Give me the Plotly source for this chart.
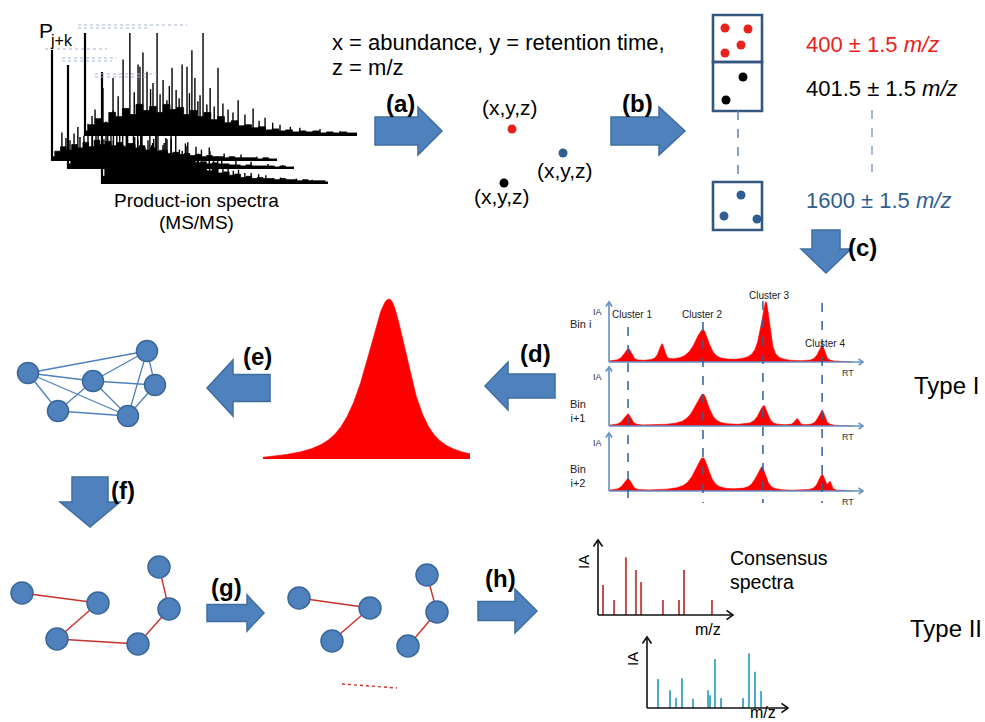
import numpy as np
import plotly.graph_objects as go

W, H = 985, 722
FONT = "Liberation Sans, Arial, Helvetica, sans-serif"

# colours
ARROW_FILL = "#4F81BD"
ARROW_LINE = "#3F6D9F"
NODE_FILL = "#4F81BD"
NODE_LINE = "#3A679A"
BOX_LINE = "#34577F"
ION_RED = "#E8231C"
ION_BLUE = "#2F5E92"
PEAK_RED = "#FF0000"
AXIS_BLUE = "#6390C6"
DASH_BLUE = "#2F5F96"
EDGE_RED = "#C8302C"
CONS_RED = "#C0504D"
CONS_BLUE = "#4BACC6"

# ---------------------------------------------------------------------------
# MS/MS product-ion spectra: relative m/z (0-100) and relative intensity (%)
GRASS_MZ = [i * 2.5 for i in range(41)]

msA_mz = [3.7, 6.6, 10.3, 12.2, 14.0, 16.5, 18.1, 19.5, 20.2, 21.3, 22.8, 24.1, 25.0, 26.5,
          27.6, 28.7, 30.1, 31.0, 32.0, 33.5, 34.6, 35.7, 37.5, 38.4, 39.3, 40.4, 41.5,
          42.3, 43.4, 44.8, 46.0, 47.5, 48.9, 50.7, 52.6, 54.4, 56.3, 58.8, 61.8, 64.0,
          66.2, 69.0, 71.7, 75.5, 79.0, 86.4, 93.8]
msA_int = [25, 46, 56, 38, 74, 100, 42, 69, 67, 81, 62, 45, 51, 100, 40, 54, 34, 48, 66,
           44, 36, 69, 67, 41, 83, 56, 33, 39, 100, 30, 46, 28, 66, 31, 25, 22, 34, 20,
           26, 14, 17, 12, 10, 8, 7, 6, 4]
msA_grass = [4, 10, 16, 12, 22, 18, 26, 20, 30, 24, 28, 22, 30, 25, 27, 20, 24, 18, 22, 15,
             18, 12, 14, 9, 10, 7, 8, 5, 6, 4, 5, 3, 4, 3, 4, 2, 3, 2, 3, 2, 2]

msB_mz = [4.4, 6.2, 8.0, 9.8, 11.5, 14.2, 16.0, 17.8, 20.5, 22.3, 24.0, 27.3, 28.8, 30.1,
          33.6, 36.2, 38.1, 40.0, 43.5, 45.2, 47.1, 50.6, 55.0, 59.3, 64.0, 70.2, 76.5,
          84.0, 91.0]
msB_int = [25, 20, 18, 24, 30, 22, 33, 40, 28, 21, 35, 45, 30, 26, 38, 30, 25, 42, 24, 19,
           33, 20, 26, 15, 12, 8, 6, 5, 3]
msB_grass = [3, 8, 12, 9, 14, 11, 16, 12, 18, 14, 17, 13, 16, 12, 15, 11, 13, 9, 11, 8,
             9, 6, 7, 5, 6, 4, 5, 3, 4, 3, 3, 2, 3, 2, 2, 2, 2, 1, 2, 1, 1]

msC_mz = [5.3, 7.1, 9.0, 10.8, 12.4, 15.9, 17.5, 19.0, 22.6, 24.2, 25.8, 29.5, 30.9, 32.2,
          35.4, 37.0, 38.9, 42.0, 43.8, 45.6, 49.3, 53.0, 57.7, 62.5, 68.0, 74.3, 81.0,
          88.5, 95.0]
msC_int = [30, 26, 22, 31, 35, 28, 24, 42, 24, 33, 38, 30, 27, 48, 27, 22, 36, 22, 28, 32,
           18, 25, 14, 20, 10, 8, 6, 4, 3]
msC_grass = [4, 9, 14, 10, 16, 12, 18, 13, 20, 15, 18, 14, 17, 12, 16, 11, 14, 10, 12, 8,
             10, 7, 8, 5, 6, 4, 5, 4, 4, 3, 3, 2, 3, 2, 2, 2, 2, 1, 2, 1, 1]

msD_mz = [2.5, 3.8, 5.0, 6.6, 8.2, 9.6, 11.0, 12.8, 14.5, 15.9, 17.3, 19.0, 20.8, 22.4,
          24.0, 25.7, 27.5, 29.0, 30.6, 32.3, 33.9, 35.5, 37.2, 38.8, 40.5, 42.2, 44.0,
          45.8, 47.6, 49.4, 51.2, 53.5, 55.8, 58.1, 60.4, 63.2, 66.0, 69.3, 72.5, 79.0,
          86.0, 93.0]
msD_int = [45, 30, 38, 26, 30, 34, 42, 28, 35, 24, 50, 32, 28, 36, 44, 30, 36, 27, 40, 22,
           25, 29, 33, 20, 22, 26, 30, 17, 18, 21, 24, 13, 14, 11, 12, 9, 9, 8, 7, 5, 4, 3]
msD_grass = [6, 14, 20, 15, 24, 18, 26, 20, 28, 22, 26, 19, 24, 18, 22, 16, 19, 13, 16, 11,
             13, 9, 10, 7, 8, 5, 6, 4, 5, 4, 4, 3, 4, 3, 3, 2, 3, 2, 2, 2, 1]

# ---------------------------------------------------------------------------
# (a) ions as (x, y, z) points
ion_x = [512, 563, 504]
ion_y = [129, 153, 183]
ion_colors = [ION_RED, ION_BLUE, "black"]
ion_label_x = [510, 565, 502]
ion_label_y = [107, 170, 196]

# (b) m/z bins
bin_labels = ["400 ± 1.5 <i>m/z</i>", "401.5 ± 1.5 <i>m/z</i>", "1600 ± 1.5 <i>m/z</i>"]
bin_label_colors = [ION_RED, "black", ION_BLUE]
bin_label_y = [44, 88, 200]
bin_top = [15, 62, 182]
bin_bottom = [62, 111, 230]
bin_dot_x = [[725, 748, 741, 725], [743, 726], [741, 724, 757]]
bin_dot_y = [[28, 29, 45, 53], [77, 100], [195, 216, 219]]
bin_dot_colors = [ION_RED, "black", ION_BLUE]

# (c)/(d) extracted ion chromatograms per bin (RT 0-100, IA %)
chrom_bins = ["Bin i", "Bin<br>i+1", "Bin<br>i+2"]
chrom_rt = [[7.6, 20.9, 37.0, 61.8, 83.9],
            [7.5, 37.0, 61.0, 74.0, 83.9],
            [7.5, 37.0, 60.2, 83.9, 87.0]]
chrom_ia = [[22, 28, 53, 100, 28],
            [20, 54, 34, 12, 27],
            [21, 57, 41, 28, 14]]
chrom_w = [[1.6, 1.2, 3.2, 2.0, 1.4],
           [1.6, 3.2, 2.0, 0.9, 1.4],
           [1.6, 3.2, 2.2, 1.4, 0.7]]
cluster_names = ["Cluster 1", "Cluster 2", "Cluster 3", "Cluster 4"]
cluster_rt = [7.5, 37.0, 60.6, 83.9]
cluster_label_rt = [9.1, 36.6, 63.0, 85.0]
cluster_label_y = [314, 314, 295, 343]
cluster_line_top = [327, 322, 301, 303]

# consensus chromatographic peak (RT 0-100, IA %)
big_rt, big_ia, big_wl, big_wr = 60.9, 102.5, 13.5, 11.1

# (e) peak-correlation network
net_x = [28, 147, 93, 155, 58, 128]
net_y = [373, 351, 381, 385, 411, 416]
net_edges = [(0, 1), (0, 2), (0, 4), (0, 5), (2, 1), (2, 3), (2, 4), (2, 5),
             (1, 3), (1, 5), (4, 5), (3, 5)]

# (f) spanning graph and (g) split graph
g1_x = [22, 98, 57, 138, 159, 169]
g1_y = [593, 603, 639, 644, 567, 609]
g1_edges = [(0, 1), (1, 2), (2, 3), (3, 5), (5, 4)]
g2_x = [299, 370, 332, 427, 437, 408]
g2_y = [598, 608, 641, 575, 612, 646]
g2_edges = [(0, 1), (1, 2), (3, 4), (4, 5)]

# (h) consensus spectra (relative m/z 0-100, IA %)
cons_red_mz = [3.7, 11.9, 20.7, 28.1, 31.9, 48.1, 60.0, 63.7, 84.4]
cons_red_ia = [40, 20, 77, 60, 44, 20, 20, 60, 20]
cons_blue_mz = [7.8, 16.3, 20.6, 24.8, 32.6, 43.3, 44.7, 48.2, 52.5, 68.1, 72.3, 76.6, 80.9]
cons_blue_ia = [41, 25, 14, 42, 13, 25, 18, 69, 14, 14, 77, 51, 24]

# ---------------------------------------------------------------------------
# panel boxes in page pixels: (left, right, baseline, top)
BOX = {
    2: (85, 357, 135, 33),     # spectrum A (back)
    3: (52, 277, 160, 50),     # spectrum B
    4: (68, 294, 168, 65),     # spectrum C
    5: (102, 328, 183, 72),    # spectrum D (front)
    6: (609, 863, 362, 302),   # Bin i
    7: (609, 863, 426, 367),   # Bin i+1
    8: (609, 863, 491, 433),   # Bin i+2
    9: (263, 470, 459, 299),   # consensus peak
    10: (598, 733, 615, 540),  # consensus spectrum (red)
    11: (647, 788, 708, 637),  # consensus spectrum (blue)
}

fig = go.Figure()
fig.update_layout(
    width=W, height=H, margin=dict(l=0, r=0, t=0, b=0),
    paper_bgcolor="white", plot_bgcolor="rgba(0,0,0,0)", showlegend=False,
    font=dict(family=FONT, color="black"),
    xaxis=dict(domain=[0, 1], range=[0, W], visible=False, fixedrange=True),
    yaxis=dict(domain=[0, 1], range=[H, 0], visible=False, fixedrange=True),
)


def set_panel(n, xr=(0, 100), yr=(0, 100), pad=6):
    l, r, b, t = BOX[n]
    sx = (xr[1] - xr[0]) / (r - l)
    sy = (yr[1] - yr[0]) / (b - t)
    fig.update_layout({
        f"xaxis{n}": dict(domain=[(l - pad) / W, (r + pad) / W],
                          range=[xr[0] - pad * sx, xr[1] + pad * sx],
                          anchor=f"y{n}", visible=False, fixedrange=True),
        f"yaxis{n}": dict(domain=[1 - (b + pad) / H, 1 - (t - pad) / H],
                          range=[yr[0] - pad * sy, yr[1] + pad * sy],
                          anchor=f"x{n}", visible=False, fixedrange=True),
    })


for n in BOX:
    set_panel(n)


def sticks(xs, ys):
    px, py = [], []
    for a, b in zip(xs, ys):
        px += [a, a, None]
        py += [0, b, None]
    return px, py


def pv(x, c, h, wl, wr, eta=0.75):
    w = np.where(x < c, wl, wr)
    u = (x - c) / w
    return h * (eta / (1 + u * u) + (1 - eta) * np.exp(-np.log(2) * u * u))


shapes = []
annotations = []


def text(x, y, s, size, color="black", xanchor="center", angle=0, xref="x", yref="y", bold=False):
    annotations.append(dict(
        x=x, y=y, xref=xref, yref=yref, text=f"<b>{s}</b>" if bold else s,
        showarrow=False, xanchor=xanchor, yanchor="middle", textangle=angle,
        font=dict(family=FONT, size=size, color=color)))


def block_arrow(direction, tail, tip, c, bh, hh, hl):
    s = 1 if tip > tail else -1
    b = tip - s * hl
    pts = [(tail, c - bh), (b, c - bh), (b, c - hh), (tip, c), (b, c + hh), (b, c + bh), (tail, c + bh)]
    if direction == "v":
        pts = [(q, p) for p, q in pts]
    path = "M" + " L".join(f"{p:.1f},{q:.1f}" for p, q in pts) + " Z"
    shapes.append(dict(type="path", path=path, xref="x", yref="y",
                       fillcolor=ARROW_FILL, line=dict(color=ARROW_LINE, width=1.5)))


def line(x0, y0, x1, y1, color, width, dash="solid", xref="x"):
    shapes.append(dict(type="line", x0=x0, y0=y0, x1=x1, y1=y1, xref=xref, yref="y",
                       line=dict(color=color, width=width, dash=dash)))


def vhead(x, y, dx, dy, size, color, width):
    # open V arrowhead pointing along (dx, dy)
    px, py = -dy, dx
    a = (x - dx * size + px * size * 0.7, y - dy * size + py * size * 0.7)
    b = (x - dx * size - px * size * 0.7, y - dy * size - py * size * 0.7)
    shapes.append(dict(type="path", path=f"M{a[0]},{a[1]} L{x},{y} L{b[0]},{b[1]}",
                       xref="x", yref="y", line=dict(color=color, width=width)))


def axis_arrows(n, color, width, head):
    l, r, b, t = BOX[n]
    line(l, b, l, t, color, width)
    line(l, b, r, b, color, width)
    vhead(l, t, 0, -1, head, color, width)
    vhead(r, b, 1, 0, head, color, width)


# ---------------- MS/MS spectra
spectra = [(2, msA_mz, msA_int, msA_grass), (3, msB_mz, msB_int, msB_grass),
           (4, msC_mz, msC_int, msC_grass), (5, msD_mz, msD_int, msD_grass)]
for n, mz, inten, grass in spectra:
    xa, ya = f"x{n}", f"y{n}"
    fig.add_trace(go.Scatter(x=GRASS_MZ, y=grass, mode="lines", fill="tozeroy",
                             fillcolor="black", line=dict(color="black", width=0.8, shape="hvh"),
                             xaxis=xa, yaxis=ya, hoverinfo="skip"))
    sx, sy = sticks(mz, inten)
    fig.add_trace(go.Scatter(x=sx, y=sy, mode="lines", line=dict(color="black", width=1.4),
                             xaxis=xa, yaxis=ya, hoverinfo="skip"))
    fig.add_trace(go.Scatter(x=[0, 0, 100], y=[100, 0, 0], mode="lines",
                             line=dict(color="black", width=2.2),
                             xaxis=xa, yaxis=ya, hoverinfo="skip"))

# faint header lines above each spectrum
for x0, x1, y in [(78, 187, 25), (78, 150, 28), (45, 107, 49), (62, 117, 58),
                  (62, 112, 61), (95, 157, 74), (95, 148, 77)]:
    line(x0, y, x1, y, "#A8B3CF", 1, "dot")

text(37, 30, "P", 21, xanchor="left")
text(48, 40, "j+k", 16, xanchor="left")
text(196, 200, "Product-ion spectra", 19)
text(196, 222, "(MS/MS)", 19)

# ---------------- (a)
text(330, 42, "x = abundance, y = retention time,", 22, xanchor="left")
text(330, 67, "z = m/z", 22, xanchor="left")
block_arrow("h", 375, 442, 131, 14, 24, 24)
text(400, 103, "(a)", 24, bold=True)
for xi, yi, ci in zip(ion_x, ion_y, ion_colors):
    fig.add_trace(go.Scatter(x=[xi], y=[yi], mode="markers",
                             marker=dict(size=9, color=ci), hoverinfo="skip"))
for lx, ly in zip(ion_label_x, ion_label_y):
    text(lx, ly, "(x,y,z)", 21)

# ---------------- (b)
block_arrow("h", 611, 685, 131, 14, 24, 26)
text(637, 103, "(b)", 24, bold=True)
for t0, b0 in zip(bin_top, bin_bottom):
    shapes.append(dict(type="rect", x0=713, x1=762, y0=t0, y1=b0, xref="x", yref="y",
                       line=dict(color=BOX_LINE, width=2.6), fillcolor="rgba(0,0,0,0)"))
line(738, bin_bottom[1], 738, bin_top[2], "#5B84B3", 1.5, "dash")
for dx, dy, dc in zip(bin_dot_x, bin_dot_y, bin_dot_colors):
    fig.add_trace(go.Scatter(x=dx, y=dy, mode="markers",
                             marker=dict(size=9, color=dc), hoverinfo="skip"))
for lab, col, ly in zip(bin_labels, bin_label_colors, bin_label_y):
    text(804, ly, lab, 22, color=col, xanchor="left")
line(872, 110, 872, 172, "#7096C6", 1.3, "dash")

# ---------------- (c)
block_arrow("v", 230, 273, 826, 14, 25, 24)
text(846, 247, "(c)", 24, xanchor="left", bold=True)

# chromatograms
rt_grid = np.linspace(0, 96, 1400)
for k, n in enumerate((6, 7, 8)):
    ia = np.zeros_like(rt_grid)
    for c, h, w in zip(chrom_rt[k], chrom_ia[k], chrom_w[k]):
        ia += pv(rt_grid, c, h, w * 1.2, w * 0.85)
    ia[ia < 0.5] = 0
    fig.add_trace(go.Scatter(x=rt_grid, y=ia, mode="lines", fill="tozeroy",
                             fillcolor=PEAK_RED, line=dict(color=PEAK_RED, width=0.6),
                             xaxis=f"x{n}", yaxis=f"y{n}", hoverinfo="skip"))
    axis_arrows(n, AXIS_BLUE, 1.6, 4.5)
    l, r, b, t = BOX[n]
    text(l - 12, t + 10, "IA", 9, color="#333333")
    text(r - 15, b + 11, "RT", 9, color="#333333")
    lab_y = b - 38 if k == 0 else b - 15
    text(l - 41, lab_y, chrom_bins[k], 11, color="#222222", xanchor="left")

for crt, top in zip(cluster_rt, cluster_line_top):
    line(crt, top, crt, 503, DASH_BLUE, 1.5, "dash", xref="x6")
for name, lrt, ly in zip(cluster_names, cluster_label_rt, cluster_label_y):
    annotations.append(dict(x=lrt, y=ly, xref="x6", yref="y", text=name, showarrow=False,
                            xanchor="center", yanchor="middle",
                            font=dict(family=FONT, size=10, color="#222222")))

# ---------------- (d) consensus chromatographic peak
block_arrow("h", 555, 485, 386, 12, 24, 23)
text(535, 353, "(d)", 24, bold=True)
big_grid = np.linspace(0, 100, 900)
big = np.clip(pv(big_grid, big_rt, big_ia, big_wl, big_wr) - 2.5, 0, None)
fig.add_trace(go.Scatter(x=big_grid, y=big, mode="lines", fill="tozeroy",
                         fillcolor=PEAK_RED, line=dict(color=PEAK_RED, width=0.6),
                         xaxis="x9", yaxis="y9", hoverinfo="skip"))

# ---------------- (e) network
block_arrow("h", 270, 207, 388, 13.5, 28, 26)
text(257, 356, "(e)", 24, bold=True)
ex, ey = [], []
for i, j in net_edges:
    ex += [net_x[i], net_x[j], None]
    ey += [net_y[i], net_y[j], None]
fig.add_trace(go.Scatter(x=ex, y=ey, mode="lines", line=dict(color=NODE_FILL, width=1.3),
                         hoverinfo="skip"))
fig.add_trace(go.Scatter(x=net_x, y=net_y, mode="markers",
                         marker=dict(size=21, color=NODE_FILL, line=dict(color=NODE_LINE, width=1.5)),
                         hoverinfo="skip"))

# ---------------- (f), (g)
block_arrow("v", 477, 527, 90, 18, 30, 25)
text(123, 490, "(f)", 24, bold=True)
for gx, gy, ge in ((g1_x, g1_y, g1_edges), (g2_x, g2_y, g2_edges)):
    ex, ey = [], []
    for i, j in ge:
        ex += [gx[i], gx[j], None]
        ey += [gy[i], gy[j], None]
    fig.add_trace(go.Scatter(x=ex, y=ey, mode="lines", line=dict(color=EDGE_RED, width=1.4),
                             hoverinfo="skip"))
    fig.add_trace(go.Scatter(x=gx, y=gy, mode="markers",
                             marker=dict(size=22, color=NODE_FILL, line=dict(color=NODE_LINE, width=1.5)),
                             hoverinfo="skip"))
block_arrow("h", 207, 264, 613, 8.5, 18, 17)
text(226, 587, "(g)", 24, bold=True)
line(342, 684, 397, 688, EDGE_RED, 1.4, "dot")

# ---------------- (h) consensus spectra
block_arrow("h", 478, 537, 611, 9.5, 22, 22)
text(500, 578, "(h)", 24, bold=True)
for n, mz, ia, col in ((10, cons_red_mz, cons_red_ia, CONS_RED),
                       (11, cons_blue_mz, cons_blue_ia, CONS_BLUE)):
    sx, sy = sticks(mz, ia)
    fig.add_trace(go.Scatter(x=sx, y=sy, mode="lines", line=dict(color=col, width=2),
                             xaxis=f"x{n}", yaxis=f"y{n}", hoverinfo="skip"))
    axis_arrows(n, "#111111", 1.6, 6.5)
    l, r, b, t = BOX[n]
    text(l - 15, t + 22, "IA", 15, angle=-90)
    text(r - 25, min(b + 14, 712), "m/z", 16)
text(728, 558, "Consensus", 19.5, xanchor="left")
text(728, 582, "spectra", 19.5, xanchor="left")

text(912, 385, "Type I", 24, xanchor="left")
text(908, 628, "Type II", 24, xanchor="left")

fig.update_layout(shapes=shapes, annotations=annotations)
fig.write_html("out.html")
